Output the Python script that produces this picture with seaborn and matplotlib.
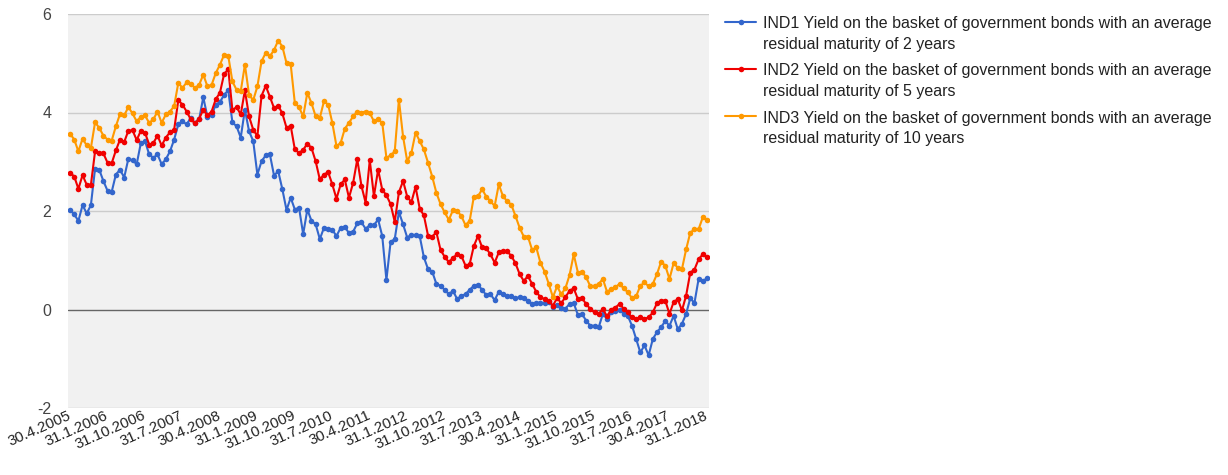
import matplotlib
matplotlib.use("Agg")
import matplotlib.pyplot as plt
from matplotlib.lines import Line2D
from matplotlib.transforms import ScaledTranslation
import numpy as np
import pandas as pd
import seaborn as sns

# Monthly observations, April 2005 .. January 2018
periods = pd.period_range("2005-04", "2018-01", freq="M")
month_labels = [f"{p.days_in_month}.{p.month}.{p.year}" for p in periods]

tick_labels = [
    "30.4.2005", "31.1.2006", "31.10.2006", "31.7.2007", "30.4.2008", "31.1.2009",
    "31.10.2009", "31.7.2010", "30.4.2011", "31.1.2012", "31.10.2012", "31.7.2013",
    "30.4.2014", "31.1.2015", "31.10.2015", "31.7.2016", "30.4.2017", "31.1.2018",
]

ind1 = [
    2.02, 1.93, 1.80, 2.12, 1.95, 2.12, 2.86, 2.84, 2.61, 2.41, 2.39, 2.74, 2.84, 2.68,
    3.06, 3.03, 2.95, 3.38, 3.42, 3.15, 3.08, 3.15,
    2.95, 3.05, 3.21, 3.45, 3.76, 3.82, 3.76, 3.89, 3.79, 3.86, 4.31, 3.91, 3.94, 4.16,
    4.21, 4.36, 4.45, 3.80, 3.72, 3.49, 4.06, 3.62,
    3.42, 2.74, 3.01, 3.13, 3.15, 2.72, 2.81, 2.44, 2.02, 2.27, 2.03, 2.07, 1.53, 2.03,
    1.80, 1.73, 1.43, 1.66, 1.63, 1.62, 1.49,
    1.66, 1.68, 1.55, 1.58, 1.75, 1.77, 1.64, 1.71, 1.71, 1.83, 1.49, 0.60, 1.37, 1.43,
    1.98, 1.73, 1.46, 1.52, 1.51, 1.49, 1.06, 0.82, 0.77, 0.52,
    0.48, 0.40, 0.31, 0.38,
    0.21, 0.28, 0.31, 0.40, 0.48, 0.50, 0.40, 0.29, 0.31, 0.19, 0.36, 0.31, 0.28, 0.27,
    0.23, 0.25, 0.23, 0.18, 0.11, 0.13, 0.14, 0.13, 0.16, 0.06, 0.09, 0.04, 0.02, 0.11,
    0.13, -0.11, -0.09, -0.23, -0.33, -0.33, -0.36, -0.09, -0.19, -0.06, -0.04, 0.00,
    -0.09, -0.13, -0.33, -0.60, -0.87, -0.73, -0.93, -0.60, -0.46, -0.36, -0.23, -0.33,
    -0.13, -0.40, -0.29, -0.09, 0.23, 0.13, 0.62, 0.58, 0.63,
]

ind2 = [
    2.78, 2.70, 2.45, 2.73, 2.53, 2.53, 3.21, 3.18, 3.17, 2.98, 2.97, 3.23, 3.45, 3.40,
    3.63, 3.64, 3.44, 3.63, 3.59, 3.35, 3.38, 3.53,
    3.33, 3.49, 3.60, 3.65, 4.25, 4.16, 4.02, 3.86, 3.78, 3.87, 4.06, 3.94, 4.02, 4.27,
    4.40, 4.78, 4.88, 4.05, 4.11, 3.96, 4.45, 3.92,
    3.65, 3.52, 4.34, 4.54, 4.32, 4.09, 4.14, 3.98, 3.69, 3.73, 3.25, 3.18, 3.24, 3.37,
    3.28, 3.01, 2.64, 2.74, 2.79, 2.54, 2.25,
    2.54, 2.64, 2.27, 2.57, 3.05, 2.51, 2.17, 3.03, 2.30, 2.84, 2.43, 2.32, 2.14, 1.78,
    2.38, 2.61, 2.29, 2.18, 2.49, 2.05, 1.91,
    1.50, 1.48, 1.57, 1.21, 1.07, 0.96, 1.05,
    1.12, 1.09, 0.89, 0.92, 1.29, 1.49, 1.26, 1.24, 1.12, 0.95, 1.16, 1.19, 1.18, 1.09,
    0.94, 0.72, 0.58, 0.68, 0.52, 0.36, 0.25, 0.21, 0.18, 0.08, 0.23, 0.13, 0.25, 0.38,
    0.43, 0.21, 0.23, 0.11, 0.01, -0.06, -0.09, 0.01, -0.14, 0.00, 0.04, 0.11, 0.02,
    -0.06, -0.16, -0.19, -0.16, -0.19, -0.16, -0.06, 0.13, 0.18, 0.18, -0.09, 0.15, 0.21,
    -0.02, 0.28, 0.75, 0.81, 1.02, 1.12, 1.06,
]

ind3 = [
    3.57, 3.45, 3.21, 3.47, 3.33, 3.28, 3.80, 3.69, 3.53, 3.45, 3.43, 3.72, 3.97, 3.94,
    4.11, 3.98, 3.82, 3.91, 3.94, 3.79, 3.86, 4.02,
    3.79, 3.96, 4.02, 4.13, 4.60, 4.50, 4.61, 4.58, 4.50, 4.56, 4.77, 4.53, 4.56, 4.80,
    4.97, 5.17, 5.15, 4.63, 4.46, 4.43, 4.97, 4.36,
    4.25, 4.53, 5.04, 5.21, 5.14, 5.27, 5.46, 5.34, 5.00, 4.98, 4.19, 4.11, 3.92, 4.40,
    4.19, 3.92, 3.89, 4.23, 4.16, 3.79, 3.32,
    3.38, 3.67, 3.79, 3.92, 4.02, 4.00, 4.02, 3.99, 3.82, 3.86, 3.79, 3.08, 3.13, 3.21,
    4.26, 3.51, 3.01, 3.18, 3.59, 3.42, 3.25, 2.98, 2.70, 2.37,
    2.14, 1.97, 1.82, 2.02,
    2.00, 1.90, 1.71, 1.80, 2.29, 2.30, 2.44, 2.29, 2.20, 2.10, 2.54, 2.30, 2.20, 2.13,
    1.90, 1.66, 1.48, 1.48, 1.21, 1.26, 0.95, 0.77, 0.52, 0.25, 0.47, 0.31, 0.43, 0.70,
    1.12, 0.75, 0.77, 0.65, 0.47, 0.48, 0.52, 0.62, 0.36, 0.41, 0.45, 0.52, 0.43, 0.35,
    0.23, 0.27, 0.48, 0.55, 0.47, 0.52, 0.72, 0.97, 0.89, 0.62, 0.94, 0.85, 0.82, 1.22,
    1.56, 1.63, 1.63, 1.87, 1.82,
]

series_names = ["IND1", "IND2", "IND3"]
series_colors = ["#3366cc", "#f00000", "#ff9900"]
legend_lines = [
    ("IND1 Yield on the basket of government bonds with an average",
     "residual maturity of 2 years"),
    ("IND2 Yield on the basket of government bonds with an average",
     "residual maturity of 5 years"),
    ("IND3 Yield on the basket of government bonds with an average",
     "residual maturity of 10 years"),
]
y_ticks = [-2, 0, 2, 4, 6]

n = len(month_labels)
df = pd.concat(
    [
        pd.DataFrame({"idx": np.arange(n), "month": month_labels, "value": vals, "series": name})
        for name, vals in zip(series_names, [ind1, ind2, ind3])
    ],
    ignore_index=True,
)

sns.set_style("white")
plt.rcParams["font.family"] = ["Liberation Sans", "DejaVu Sans"]

W, H = 1228, 475
fig = plt.figure(figsize=(W / 100, H / 100), dpi=100)
ax = fig.add_axes([68 / W, 1 - 408 / H, 641 / W, 394 / H])
ax.set_facecolor("#f1f1f1")

for y in [-2, 2, 4, 6]:
    ax.axhline(y, color="#cccccc", lw=1, zorder=0.5)
ax.axhline(0, color="#666666", lw=1, zorder=1)

sns.lineplot(
    data=df, x="idx", y="value", hue="series", hue_order=series_names,
    palette=dict(zip(series_names, series_colors)), marker="o", markersize=4,
    markeredgewidth=0, linewidth=1.5, errorbar=None, legend=False, ax=ax, zorder=3,
)

ax.set_xlim(-0.5, n - 0.5)
ax.set_ylim(-2, 6)
ax.set_xlabel("")
ax.set_ylabel("")
for s in ax.spines.values():
    s.set_visible(False)

tick_pos = list(range(0, n, 9))
ax.set_xticks(tick_pos)
ax.set_xticklabels(tick_labels, rotation=24, ha="right", va="center",
                   rotation_mode="anchor", fontsize=10.8, color="#222222")
shift = ScaledTranslation(4 / 100, 0, fig.dpi_scale_trans)
for lab in ax.get_xticklabels():
    lab.set_transform(lab.get_transform() + shift)
ax.set_yticks(y_ticks)
ax.set_yticklabels([str(v) for v in y_ticks], fontsize=11.5, color="#444444")
ax.tick_params(axis="x", length=0, pad=5)
ax.tick_params(axis="y", length=0, pad=12)

# Legend to the right of the plot area
for k, (color, (l1, l2)) in enumerate(zip(series_colors, legend_lines)):
    base = 28.3 + 47.2 * k
    yh = 1 - (base - 6.5) / H
    fig.add_artist(Line2D([725 / W, 756 / W], [yh, yh], color=color, lw=1.5,
                          transform=fig.transFigure))
    fig.add_artist(Line2D([740.5 / W], [yh], marker="o", ms=4, mew=0, color=color,
                          transform=fig.transFigure))
    fig.text(763 / W, 1 - base / H, l1, ha="left", va="baseline", fontsize=11.5,
             color="#222222")
    fig.text(763 / W, 1 - (base + 20.7) / H, l2, ha="left", va="baseline", fontsize=11.5,
             color="#222222")

fig.savefig("out.png", dpi=100)
